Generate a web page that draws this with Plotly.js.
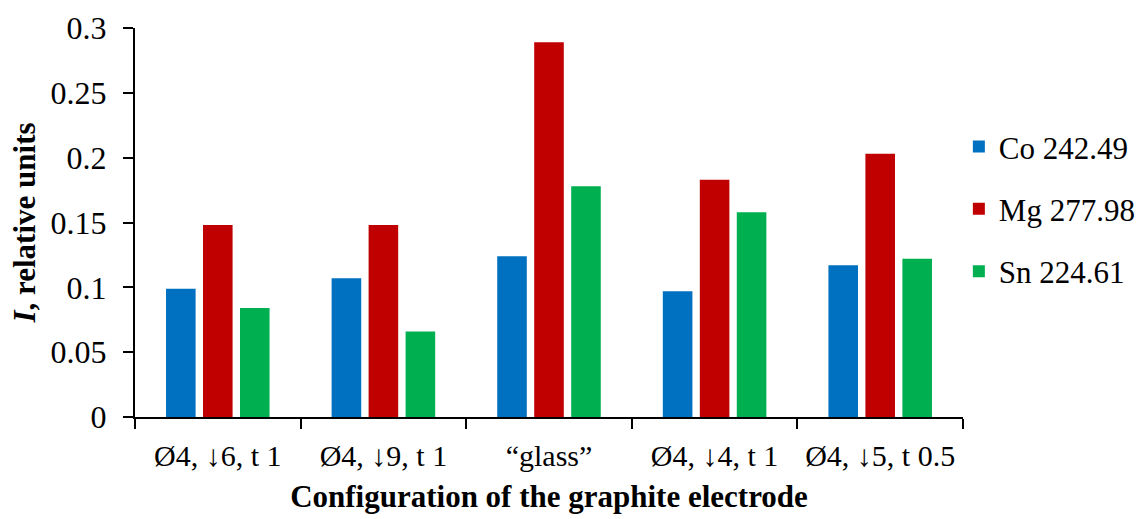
<!DOCTYPE html>
<html>
<head>
<meta charset="utf-8">
<script src="https://cdn.plot.ly/plotly-3.0.1.min.js"></script>
<style>html,body{margin:0;padding:0;background:#fff;}#chart{width:1148px;height:519px;}</style>
</head>
<body>
<div id="chart"></div>
<script>
const categories = ["Ø4, ↓6, t 1", "Ø4, ↓9, t 1", "“glass”", "Ø4, ↓4, t 1", "Ø4, ↓5, t 0.5"];
const seriesNames = ["Co 242.49", "Mg 277.98", "Sn 224.61"];
const coValues = [0.099, 0.107, 0.124, 0.097, 0.117];
const mgValues = [0.148, 0.148, 0.289, 0.183, 0.203];
const snValues = [0.084, 0.066, 0.178, 0.158, 0.122];
const yTickVals = [0, 0.05, 0.1, 0.15, 0.2, 0.25, 0.3];
const yTickText = ["0", "0.05", "0.1", "0.15", "0.2", "0.25", "0.3"];

const colors = ["#0070C0", "#C00000", "#00B050"];
const values = [coValues, mgValues, snValues];
const font = "Liberation Serif, Times New Roman, serif";

const traces = values.map((v, i) => ({
  type: "bar",
  x: categories,
  y: v,
  name: seriesNames[i],
  legendgroup: "g" + i,
  marker: {color: colors[i], line: {width: 0}},
  hoverinfo: "x+y+name"
}));

const layout = {
  width: 1148, height: 519,
  margin: {l: 135, r: 185, t: 28, b: 102, autoexpand: false},
  paper_bgcolor: "#fff", plot_bgcolor: "#fff",
  font: {family: font, color: "#000", size: 32},
  barmode: "group",
  bargap: 0.33,
  bargroupgap: 0.2,
  showlegend: true,
  legend: {
    x: 0.995, xanchor: "left", y: 0.535, yanchor: "middle",
    font: {family: font, size: 31, color: "#000"},
    tracegroupgap: 19,
    itemwidth: 30,
    bgcolor: "rgba(0,0,0,0)"
  },
  xaxis: {
    type: "category",
    showline: true, linecolor: "#000", linewidth: 2,
    ticks: "outside", tickson: "boundaries", ticklen: 10, tickwidth: 2, tickcolor: "#000",
    tickangle: 0,
    tickfont: {family: font, size: 30, color: "#000"},
    ticklabelstandoff: 11,
    showgrid: false, zeroline: false,
    title: {text: "<b>Configuration of the graphite electrode</b>", font: {family: font, size: 31, color: "#000"}, standoff: 14}
  },
  yaxis: {
    range: [0, 0.3],
    tickvals: yTickVals, ticktext: yTickText,
    showline: true, linecolor: "#000", linewidth: 2,
    ticks: "outside", ticklen: 10, tickwidth: 2, tickcolor: "#000",
    tickfont: {family: font, size: 32, color: "#000"},
    ticklabelstandoff: 10,
    showgrid: false, zeroline: false,
    title: {text: "<b><i>I</i>, relative units</b>", font: {family: font, size: 31, color: "#000"}, standoff: 6}
  }
};

Plotly.newPlot("chart", traces, layout, {displayModeBar: false, staticPlot: true});
</script>
</body>
</html>
